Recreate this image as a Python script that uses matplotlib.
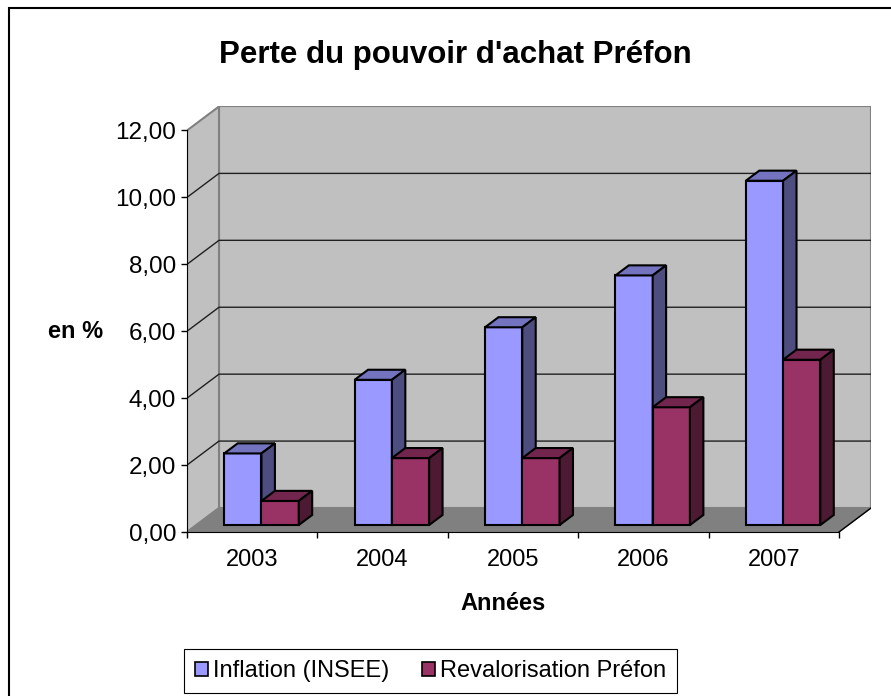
import numpy as np
import matplotlib.pyplot as plt
from matplotlib.patches import Polygon, Patch, Rectangle
from matplotlib.ticker import FuncFormatter

plt.rcParams['font.family'] = ['Liberation Sans', 'DejaVu Sans']

years = ['2003', '2004', '2005', '2006', '2007']
inflation = [2.14, 4.34, 5.91, 7.46, 10.29]
revalo = [0.72, 2.00, 2.00, 3.52, 4.94]
series_names = ['Inflation (INSEE)', 'Revalorisation Préfon']
yticks = [0, 2, 4, 6, 8, 10, 12]

# colours of each bar: front, top, side
blue = ('#9999ff', '#7373bf', '#4d4d80')
plum = ('#993366', '#73264d', '#4d1a33')

W, H = 891, 696
fig = plt.figure(figsize=(W / 100, H / 100), dpi=100)

# fake 3d: depth z in [0, 1] moves a point by (z*DX, z*DY) in data units
px_cat = 130.4
px_val = 33.46
DX = 32 / px_cat
DY = 24 / px_val
ymax = 12
n = len(years)

ax = fig.add_axes([187 / W, (H - 532) / H, (n + DX) * px_cat / W, (ymax + DY) * px_val / H])
ax.set_xlim(0, n + DX)
ax.set_ylim(0, ymax + DY)
ax.patch.set_visible(False)


def P(x, y, z):
    return (x + z * DX, y + z * DY)


def poly(pts, fc, ec, lw, zo):
    ax.add_patch(Polygon(pts, closed=True, facecolor=fc, edgecolor=ec,
                         linewidth=lw, zorder=zo, joinstyle='miter'))


# walls and floor
poly([P(0, 0, 1), P(n, 0, 1), P(n, ymax, 1), P(0, ymax, 1)], '#c0c0c0', '#808080', 1.5, 1)
poly([P(0, 0, 0), P(0, ymax, 0), P(0, ymax, 1), P(0, 0, 1)], '#c0c0c0', '#808080', 1.5, 1)
poly([P(0, 0, 0), P(n, 0, 0), P(n, 0, 1), P(0, 0, 1)], '#808080', '#808080', 1, 1)
ax.plot(*zip(P(n, 0, 0), P(n, 0, 1)), color='black', lw=1, zorder=2)

for v in yticks[1:-1]:
    ax.plot(*zip(P(0, v, 0), P(0, v, 1), P(n, v, 1)), color='#202020', lw=1, zorder=2)

# bars
gap = 0.75 / 3.5
w = 1 / 3.5
zf, zb = 0.29, 0.71
for i in range(n):
    for k, (vals, cols) in enumerate([(inflation, blue), (revalo, plum)]):
        x0 = i + gap + k * w
        x1 = x0 + w
        v = vals[i]
        poly([P(x0, 0, zf), P(x1, 0, zf), P(x1, v, zf), P(x0, v, zf)], cols[0], 'black', 1.5, 3)
        poly([P(x0, v, zf), P(x1, v, zf), P(x1, v, zb), P(x0, v, zb)], cols[1], 'black', 1.5, 3)
        poly([P(x1, 0, zf), P(x1, 0, zb), P(x1, v, zb), P(x1, v, zf)], cols[2], 'black', 1.5, 3)

# axes
for s in ['top', 'right']:
    ax.spines[s].set_visible(False)
ax.spines['left'].set_bounds(0, ymax)
ax.spines['bottom'].set_bounds(0, n)
ax.spines['left'].set_zorder(4)
ax.spines['bottom'].set_zorder(4)
ax.set_yticks(yticks)
ax.yaxis.set_major_formatter(FuncFormatter(lambda v, _: f'{v:.2f}'.replace('.', ',')))
ax.tick_params(axis='y', length=4.3, width=1, labelsize=17.5, pad=3.6)
ax.set_xticks(range(n + 1))
ax.set_xticklabels([])
ax.set_xticks(np.arange(n) + 0.5, years, minor=True)
ax.tick_params(axis='x', which='major', length=4.3, width=1)
ax.tick_params(axis='x', which='minor', length=0, labelsize=17, pad=12)

fig.text(455 / W, 1 - 63 / H, "Perte du pouvoir d'achat Préfon", ha='center', va='baseline',
         fontsize=22.5, fontweight='bold')
fig.text(503 / W, 1 - 610 / H, 'Années', ha='center', va='baseline', fontsize=17, fontweight='bold')
fig.text(48 / W, 1 - 332 / H, 'en %', ha='left', va='center', fontsize=17, fontweight='bold')

handles = [Patch(facecolor=blue[0], edgecolor='black', linewidth=1.2),
           Patch(facecolor=plum[0], edgecolor='black', linewidth=1.2)]
leg = fig.legend(handles, series_names, loc='center', bbox_to_anchor=(430.5 / W, 1 - 671 / H),
                 ncol=2, fontsize=17, frameon=True, fancybox=False, framealpha=1,
                 handlelength=0.55, handleheight=0.55, handletextpad=0.2,
                 columnspacing=1.4, borderpad=0.45)
leg.get_frame().set_edgecolor('black')
leg.get_frame().set_linewidth(0.8)

# outer border (only top and left edges fall inside the picture)
fig.add_artist(Rectangle((8.5 / W, -0.1), 1.2, 1.1 - 8.5 / H, transform=fig.transFigure,
                         fill=False, edgecolor='black', linewidth=1.5))

fig.savefig('out.png', dpi=100)
